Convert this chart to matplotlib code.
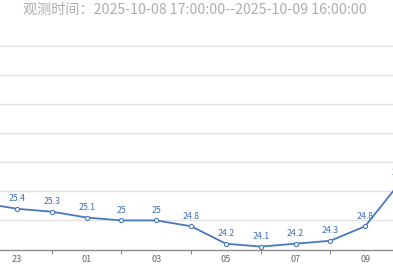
import matplotlib
matplotlib.use("Agg")
import matplotlib.pyplot as plt

plt.rcParams['font.family'] = ['Noto Sans CJK SC', 'DejaVu Sans']

# hourly temperature, 22:00 (10-08) .. 10:00 (10-09), visible part of the chart
hours = ['22', '23', '00', '01', '02', '03', '04', '05', '06', '07', '08', '09', '10']
temps = [25.6, 25.4, 25.3, 25.1, 25.0, 25.0, 24.8, 24.2, 24.1, 24.2, 24.3, 24.8, 26.3]
title = '观测时间：2025-10-08 17:00:00--2025-10-09 16:00:00'

line_color = '#4a78c0'
label_color = '#3f6fb5'

fig = plt.figure(figsize=(3.93, 2.67), dpi=100)
ax = fig.add_axes([0, 0.0655, 1, 0.7625])

x = list(range(len(hours)))
ax.plot(x, temps, color=line_color, linewidth=1.3, marker='o', markersize=3,
        markerfacecolor='white', markeredgecolor=line_color, markeredgewidth=0.8,
        zorder=3, clip_on=True)

for xi, t in zip(x, temps):
    ax.annotate(f'{t:g}', (xi, t), xytext=(0, 4), textcoords='offset points',
                ha='center', va='bottom', fontsize=6.3, color=label_color,
                annotation_clip=False)

# grid lines at every degree
for v in range(25, 32):
    ax.axhline(v, color='#e3e3e3', linewidth=1.0, zorder=1, clip_on=False)

for side in ['top', 'right', 'left']:
    ax.spines[side].set_visible(False)
ax.spines['bottom'].set_color('#8c8c8c')
ax.spines['bottom'].set_linewidth(1.0)

# ticks at even hours, labels at odd hours
even_idx = [i for i, h in enumerate(hours) if int(h) % 2 == 0]
odd_idx = [i for i, h in enumerate(hours) if int(h) % 2 == 1]
ax.set_xticks(even_idx)
ax.set_xticklabels([])
ax.tick_params(axis='x', which='major', length=3, width=0.8, color='#8c8c8c')
ax.set_xticks(odd_idx, minor=True)
ax.set_xticklabels([hours[i] for i in odd_idx], minor=True)
ax.tick_params(axis='x', which='minor', length=0, pad=4, labelsize=6.5, labelcolor='#666666')
ax.set_yticks([])

# limits last, set_xticks would widen them
ax.set_xlim(0.511, 11.80)
ax.set_ylim(24, 31)

fig.text(0.495, 0.962, title, ha='center', va='center', fontsize=10.2, color='#adadad')

fig.savefig('out.png', dpi=100)
